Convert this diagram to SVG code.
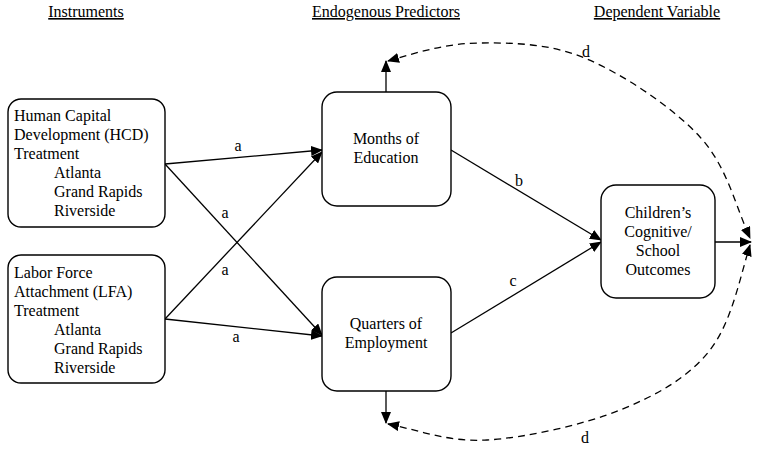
<svg xmlns="http://www.w3.org/2000/svg" width="759" height="449" viewBox="0 0 759 449">
<defs>
<style>
.hdr{text-anchor:middle;text-decoration:underline}
.mid{text-anchor:middle}
.box{fill:#fff;stroke:#000;stroke-width:1.4}
.ln{fill:none;stroke:#000;stroke-width:1.3}
.dash{fill:none;stroke:#000;stroke-width:1.3;stroke-dasharray:7 5}
</style>
<marker id="ah" viewBox="0 0 12 10" refX="11" refY="5" markerUnits="userSpaceOnUse" markerWidth="12" markerHeight="10" orient="auto-start-reverse">
<path d="M0,0 L12,5 L0,10 Z" fill="#000"/>
</marker>
</defs>
<rect width="759" height="449" fill="#fff"/>
<g id="headers">
<text class="hdr" x="86" y="17" font-family="Liberation Serif, serif" font-size="16">Instruments</text>
<text class="hdr" x="386" y="17" font-family="Liberation Serif, serif" font-size="16">Endogenous Predictors</text>
<text class="hdr" x="657" y="17" font-family="Liberation Serif, serif" font-size="16">Dependent Variable</text>
</g>
<g id="connectors">
<line class="ln" x1="165" y1="164" x2="322" y2="150" marker-end="url(#ah)"/>
<line class="ln" x1="165" y1="164" x2="322" y2="335" marker-end="url(#ah)"/>
<line class="ln" x1="165" y1="319" x2="322" y2="152" marker-end="url(#ah)"/>
<line class="ln" x1="165" y1="319" x2="322" y2="336" marker-end="url(#ah)"/>
<line class="ln" x1="451" y1="150" x2="601" y2="240" marker-end="url(#ah)"/>
<line class="ln" x1="451" y1="333" x2="601" y2="242" marker-end="url(#ah)"/>
<line class="ln" x1="386" y1="92" x2="386" y2="61" marker-end="url(#ah)"/>
<line class="ln" x1="386" y1="391" x2="386" y2="423" marker-end="url(#ah)"/>
<line class="ln" x1="715" y1="242" x2="751" y2="242" marker-end="url(#ah)"/>
<path class="dash" d="M388,61 C418.7,52 446.8,43.3 480,43 C513.2,42.7 550.3,43.3 587,59 C623.7,74.7 672.8,107.2 700,137 C727.2,166.8 735,204.7 750,238" marker-start="url(#ah)" marker-end="url(#ah)"/>
<path class="dash" d="M388,424 C421.3,430.7 448.3,442.3 487,440 C525.7,437.7 582.8,425 620,410 C657.2,395 688.3,377.7 710,350 C731.7,322.3 740,277.3 750,245" marker-start="url(#ah)" marker-end="url(#ah)"/>
<text class="mid" x="238" y="151" font-family="Liberation Serif, serif" font-size="16">a</text>
<text class="mid" x="225" y="218" font-family="Liberation Serif, serif" font-size="16">a</text>
<text class="mid" x="225" y="275" font-family="Liberation Serif, serif" font-size="16">a</text>
<text class="mid" x="236" y="342" font-family="Liberation Serif, serif" font-size="16">a</text>
<text class="mid" x="519" y="186" font-family="Liberation Serif, serif" font-size="16">b</text>
<text class="mid" x="513" y="286" font-family="Liberation Serif, serif" font-size="16">c</text>
<text class="mid" x="586" y="57" font-family="Liberation Serif, serif" font-size="16">d</text>
<text class="mid" x="585" y="443" font-family="Liberation Serif, serif" font-size="16">d</text>
</g>
<g id="hcd">
<rect class="box" x="8" y="99" width="157" height="128" rx="13"/>
<text x="14" y="121" font-family="Liberation Serif, serif" font-size="16">Human Capital</text>
<text x="14" y="140" font-family="Liberation Serif, serif" font-size="16">Development (HCD)</text>
<text x="14" y="159" font-family="Liberation Serif, serif" font-size="16">Treatment</text>
<text x="54" y="178" font-family="Liberation Serif, serif" font-size="16">Atlanta</text>
<text x="54" y="197" font-family="Liberation Serif, serif" font-size="16">Grand Rapids</text>
<text x="54" y="216" font-family="Liberation Serif, serif" font-size="16">Riverside</text>
</g>
<g id="lfa">
<rect class="box" x="8" y="255" width="157" height="128" rx="13"/>
<text x="14" y="278" font-family="Liberation Serif, serif" font-size="16">Labor Force</text>
<text x="14" y="297" font-family="Liberation Serif, serif" font-size="16">Attachment (LFA)</text>
<text x="14" y="316" font-family="Liberation Serif, serif" font-size="16">Treatment</text>
<text x="54" y="335" font-family="Liberation Serif, serif" font-size="16">Atlanta</text>
<text x="54" y="354" font-family="Liberation Serif, serif" font-size="16">Grand Rapids</text>
<text x="54" y="373" font-family="Liberation Serif, serif" font-size="16">Riverside</text>
</g>
<g id="education">
<rect class="box" x="322" y="92" width="129" height="114" rx="15"/>
<text class="mid" x="386" y="144" font-family="Liberation Serif, serif" font-size="16">Months of</text>
<text class="mid" x="386" y="163" font-family="Liberation Serif, serif" font-size="16">Education</text>
</g>
<g id="employment">
<rect class="box" x="322" y="277" width="129" height="114" rx="15"/>
<text class="mid" x="386" y="329" font-family="Liberation Serif, serif" font-size="16">Quarters of</text>
<text class="mid" x="386" y="348" font-family="Liberation Serif, serif" font-size="16">Employment</text>
</g>
<g id="outcomes">
<rect class="box" x="601" y="185" width="114" height="113" rx="15"/>
<text class="mid" x="658" y="218" font-family="Liberation Serif, serif" font-size="16">Children’s</text>
<text class="mid" x="658" y="237" font-family="Liberation Serif, serif" font-size="16">Cognitive/</text>
<text class="mid" x="658" y="256" font-family="Liberation Serif, serif" font-size="16">School</text>
<text class="mid" x="658" y="275" font-family="Liberation Serif, serif" font-size="16">Outcomes</text>
</g>
</svg>
